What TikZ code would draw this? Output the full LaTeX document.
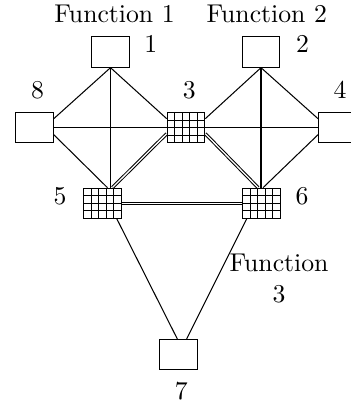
\documentclass[tikz,border=0pt]{standalone}
\usetikzlibrary{calc}
\begin{document}
\begin{tikzpicture}[x=0.3891pt,y=-0.3891pt,
  box/.style={draw,fill=white,minimum width=14.6pt,minimum height=11.8pt,inner sep=0pt,line width=0.4pt},
  gridbox/.style={box,path picture={
     \foreach \k in {0.2,0.4,0.6,0.8}{\draw ($(path picture bounding box.north west)!\k!(path picture bounding box.north east)$) -- ($(path picture bounding box.south west)!\k!(path picture bounding box.south east)$);}
     \foreach \k in {0.25,0.5,0.75}{\draw ($(path picture bounding box.north west)!\k!(path picture bounding box.south west)$) -- ($(path picture bounding box.north east)!\k!(path picture bounding box.south east)$);}
  }},
  lbl/.style={anchor=base,inner sep=0pt},
  dbl/.style={double,double distance=0.5pt}
]
\useasboundingbox (0,0) rectangle (350,407);
% boxes
\node[box] (b1) at (110.5,52) {};
\node[box] (b2) at (261,52) {};
\node[box] (b8) at (34.5,127.7) {};
\node[gridbox] (b3) at (186,127.7) {};
\node[box] (b4) at (337.3,127.7) {};
\node[gridbox] (b5) at (102.4,203.3) {};
\node[gridbox] (b6) at (261.6,203.3) {};
\node[box] (b7) at (178.3,354.6) {};
% connectors
\draw (b1.south) -- ($(b8.east)+(0,-9)$);
\draw (b1.south) -- (b1.south |- b5.north);
\draw (b1.south) -- ($(b3.west)+(0,-9)$);
\draw (b2.south) -- ($(b3.east)+(0,-9)$);
\draw (b2.south) -- (b2.south |- b6.north);
\draw (b2.south) -- ($(b4.west)+(0,-9)$);
\draw (b8.east) -- (b3.west);
\draw (b3.east) -- (b4.west);
\draw ($(b8.east)+(0,7)$) -- ($(b5.north)+(5,0)$);
\draw[dbl] ($(b3.west)+(0,6)$) -- ($(b5.north)+(10,0)$);
\draw[dbl] ($(b3.east)+(0,6)$) -- ($(b6.north)+(-3.5,0)$);
\draw ($(b4.west)+(0,7)$) -- ($(b6.north)+(1.5,0)$);
\draw[dbl] (b5.east) -- (b6.west);
\draw ($(b5.south)+(14.5,0)$) -- ($(b7.north)+(-1,0)$);
\draw ($(b6.south)+(-15,0)$) -- ($(b7.north)+(8.4,0)$);
% labels
\node[lbl] (t1) at (114.5,22.7) {Function 1};
\node[lbl] (t2) at (266.7,22.7) {Function 2};
\node[lbl] (l1) at (150.8,52.7) {1};
\node[lbl] (l2) at (302.5,52.7) {2};
\node[lbl] (l8) at (37.5,98.3) {8};
\node[lbl] (l3) at (189.2,98.3) {3};
\node[lbl] (l4) at (340,98.3) {4};
\node[lbl] (l5) at (60,204) {5};
\node[lbl] (l6) at (302,204) {6};
\node[lbl] (l7) at (181.2,399.3) {7};
\node[anchor=north,inner sep=0pt,align=center] (t3) at (279,254) {Function\\3};
\end{tikzpicture}
\end{document}
